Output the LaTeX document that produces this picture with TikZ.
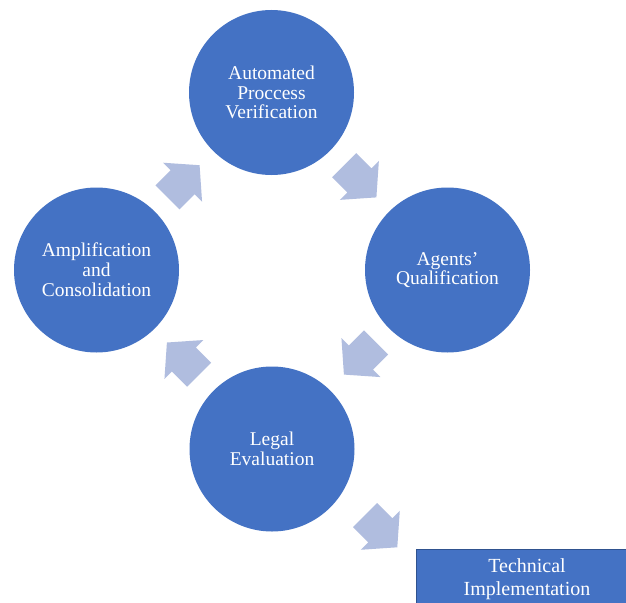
\documentclass[tikz,border=0pt]{standalone}
\usepackage{fontspec}
\setmainfont{Liberation Serif}
\definecolor{circblue}{HTML}{4472C4}
\definecolor{arrowblue}{RGB}{176,189,223}
\definecolor{rectborder}{HTML}{2F528F}
\tikzset{
  stage/.style={circle, fill=circblue, minimum size=165pt, inner sep=0pt,
    text=white, align=center, font=\fontsize{19.5}{19.8}\selectfont},
  techbox/.style={rectangle, fill=circblue, draw=rectborder, line width=0.8pt,
    minimum width=222pt, minimum height=60pt, inner sep=0pt,
    text=white, align=center, font=\fontsize{20}{23}\selectfont},
  blockarrow/.pic={\fill[arrowblue] (-22.75,-17) -- (-1.25,-17) -- (-1.25,-27.5)
    -- (22.75,0) -- (-1.25,27.5) -- (-1.25,17) -- (-22.75,17) -- cycle;}
}
\begin{document}
\begin{tikzpicture}[x=1pt,y=-1pt]
\useasboundingbox (0,0) rectangle (626,602);
\clip (0,0) rectangle (626,602);
\fill[white] (0,0) rectangle (626,602);
\node[stage] (auto) at (271.5,92.5) {Automated\\Proccess\\Verification};
\node[stage] (agents) at (447.5,270) {Agents’\\Qualification};
\node[stage] (legal) at (272,449) {Legal\\Evaluation};
\node[stage] (ampl) at (96.5,270) {Amplification\\and\\Consolidation};
\node[techbox] (tech) at (527,579) {Technical\\Implementation};
\pic[rotate=45] (a1) at (183.5,181.3) {blockarrow};
\pic[rotate=-45] (a2) at (360.3,181.3) {blockarrow};
\pic[rotate=-135] (a3) at (360,358.5) {blockarrow};
\pic[rotate=135] (a4) at (183,358.6) {blockarrow};
\pic[rotate=-45] (a5) at (381.2,531.2) {blockarrow};
\end{tikzpicture}
\end{document}
